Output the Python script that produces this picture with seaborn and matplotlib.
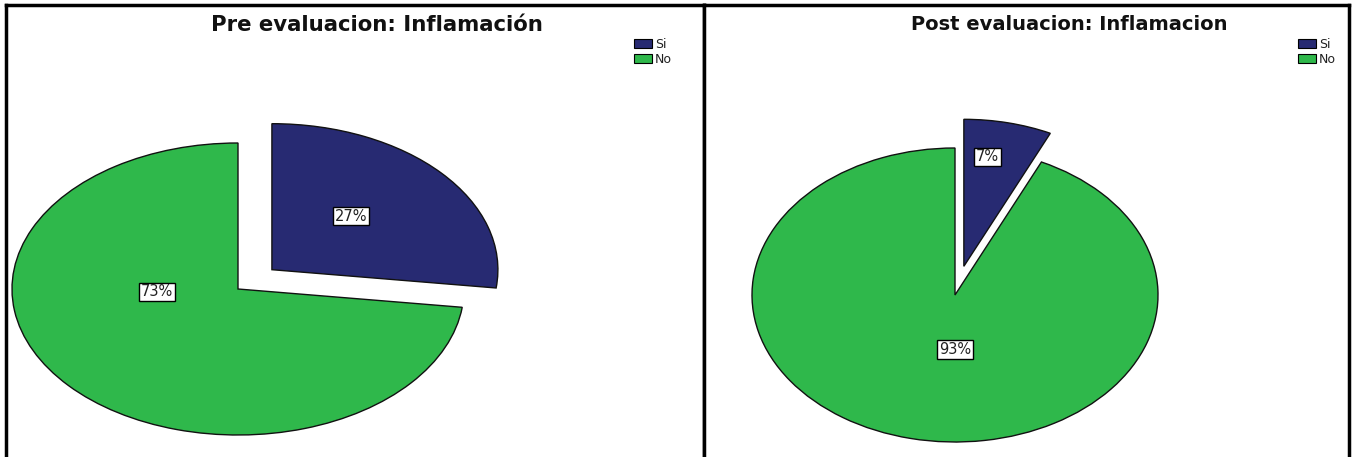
import matplotlib
matplotlib.use("Agg")
import matplotlib.pyplot as plt
from matplotlib.patches import Patch
import seaborn as sns

# Response categories and shares (percent) before and after treatment
categories = ["Si", "No"]
pre_values = [27, 73]
post_values = [7, 93]
titles = ["Pre evaluacion: Inflamación", "Post evaluacion: Inflamacion"]

sns.set_theme(style="white")
plt.rcParams["font.family"] = ["DejaVu Sans"]

colors = ["#272a72", "#2fb84b"]
W, H = 1352, 457

fig = plt.figure(figsize=(W / 100, H / 100), dpi=100)
fig.patch.set_facecolor("white")


def px_axes(x0, x1, y0, y1):
    # axes placed from pixel edges (y measured from the top)
    return fig.add_axes([x0 / W, 1 - y1 / H, (x1 - x0) / W, (y1 - y0) / H])


panels = [
    dict(values=pre_values, title=titles[0], box=(6, 704, 5, 457),
         center=(238, 289), rx=226, ry=146, title_x=377, title_size=15.3,
         legend_x=634, label_pos=[(0.50, 0.50), (-0.36, -0.02)]),
    dict(values=post_values, title=titles[1], box=(704, 1349, 5, 457),
         center=(955, 295), rx=203, ry=147, title_x=1069, title_size=14,
         legend_x=1298, label_pos=[(0.16, 0.94), (0.0, -0.37)]),
]

for p in panels:
    x0, x1, y0, y1 = p["box"]
    ax = px_axes(x0, x1, y0, y1)
    wedges, texts, autotexts = ax.pie(
        p["values"], colors=colors, startangle=90, counterclock=False,
        explode=[0.2, 0.0], autopct="%1.0f%%", pctdistance=0.5,
        wedgeprops=dict(edgecolor="#111111", linewidth=1.0),
        textprops=dict(fontsize=10.5, color="#222222"),
    )
    for t, pos in zip(autotexts, p["label_pos"]):
        t.set_position(pos)
        t.set_bbox(dict(boxstyle="square,pad=0.12", fc="white", ec="black", lw=1))

    cx, cy = p["center"]
    ax.set_aspect("auto")
    ax.set_xlim((x0 - cx) / p["rx"], (x1 - cx) / p["rx"])
    ax.set_ylim((cy - y1) / p["ry"], (cy - y0) / p["ry"])
    ax.set_frame_on(True)
    ax.set_xticks([])
    ax.set_yticks([])
    for side in ("left", "top", "right"):
        ax.spines[side].set_visible(True)
        ax.spines[side].set_color("black")
        ax.spines[side].set_linewidth(2.5)
    ax.spines["bottom"].set_visible(False)

    fig.text(p["title_x"] / W, 1 - 25 / H, p["title"], ha="center", va="center",
             fontsize=p["title_size"], fontweight="bold", color="#111111")

    handles = [Patch(facecolor=c, edgecolor="black", linewidth=0.8) for c in colors]
    fig.legend(handles, categories, loc="upper left",
               bbox_to_anchor=(p["legend_x"] / W, 1 - 38 / H),
               frameon=False, fontsize=9, handlelength=1.4, handleheight=0.75,
               handletextpad=0.3, labelspacing=0.15, borderpad=0, borderaxespad=0,
               labelcolor="#222222")

fig.savefig("out.png", dpi=100, facecolor="white")
